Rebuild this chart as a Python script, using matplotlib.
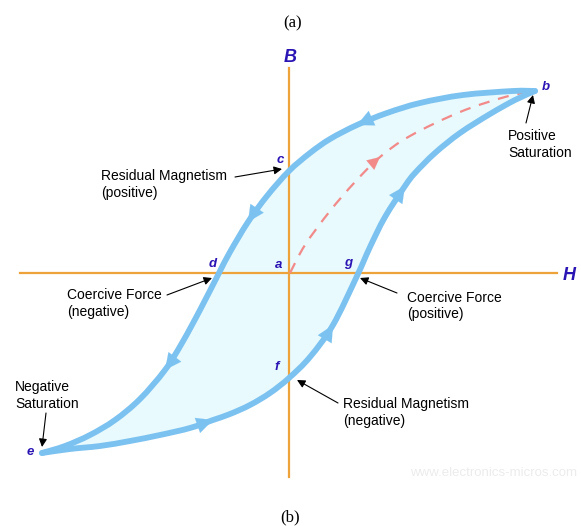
import numpy as np
import matplotlib
matplotlib.use("Agg")
from matplotlib import pyplot as plt
from matplotlib.path import Path
from matplotlib.patches import PathPatch

# hysteresis loop, values (H, B in arbitrary units)
# descending branch b -> c -> d -> e
down_h = [24.6, 22.4, 17.4, 13.1, 9.8, 6.8, 4.1, 2.1, 0.0, -2.2, -4.1, -5.9, -7.0, -8.9,
          -10.7, -12.4, -14.9, -17.4, -19.9, -22.4, -24.7]
down_b = [18.2, 18.2, 17.8, 17.0, 16.0, 14.8, 13.4, 12.0, 10.2, 7.7, 5.1, 2.1, 0.0, -3.7,
          -7.0, -9.7, -12.6, -14.7, -16.2, -17.3, -18.0]
# ascending branch e -> f -> g -> b
up_h = [-24.7, -21.9, -18.9, -15.9, -12.9, -9.9, -7.6, -5.9, -3.9, -1.9, 0.0, 2.1, 4.4, 6.8,
        8.1, 9.6, 11.6, 12.6, 14.6, 17.1, 20.1, 22.6, 24.6]
up_b = [-18.0, -17.6, -17.3, -16.8, -16.2, -15.5, -14.7, -14.1, -13.2, -12.0, -10.5, -8.4,
        -5.2, -0.3, 2.6, 5.6, 8.7, 10.0, 12.0, 14.0, 15.9, 17.3, 18.2]
# initial magnetisation curve a -> b
init_h = [0.1, 1.6, 4.1, 6.6, 9.1, 12.1, 17.1, 21.6, 24.6]
init_b = [0.0, 2.8, 6.2, 9.1, 11.6, 13.7, 16.1, 17.6, 18.2]

# where the direction arrows sit (indices into the arrays above)
down_arrows = [5, 10, 15]
up_arrows = [6, 12, 16]
init_arrows = [4]

# point labels
pt_names = ["a", "b", "c", "d", "e", "f", "g"]
pt_h = [-1.0, 25.7, -0.9, -7.6, -25.9, -1.2, 5.9]
pt_b = [0.8, 18.6, 11.3, 0.9, -17.9, -9.4, 1.0]

# callouts: text, text position, arrow tail, arrow tip
notes = [
    ("Residual Magnetism\n(positive)", (-18.8, 8.85), (-5.4, 9.6), (-0.7, 10.4)),
    ("Positive\nSaturation", (21.9, 12.85), (23.7, 15.0), (24.4, 17.8)),
    ("Coercive Force\n(negative)", (-22.2, -3.05), (-12.2, -2.2), (-7.7, -0.5)),
    ("Coercive Force\n(positive)", (11.8, -3.3), (10.8, -2.0), (7.1, -0.5)),
    ("Residual Magnetism\n(negative)", (5.4, -13.95), (4.9, -13.0), (0.8, -10.7)),
    ("Negative\nSaturation", (-27.4, -12.25), (-24.3, -14.0), (-24.7, -17.4)),
]

BLUE = "#7cc2f0"
FILL = "#e8fafd"
ORANGE = "#eea23a"
LABEL = "#2a14b4"
RED = "#f28a8a"


def smooth_verts(xs, ys):
    # catmull-rom through the read points, as cubic bezier vertices
    p = np.column_stack([xs, ys]).astype(float)
    ext = np.vstack([p[0], p, p[-1]])
    verts = [p[0]]
    for i in range(len(p) - 1):
        p0, p1, p2, p3 = ext[i], ext[i + 1], ext[i + 2], ext[i + 3]
        verts += [p1 + (p2 - p0) / 6, p2 - (p3 - p1) / 6, p2]
    return verts


def smooth_path(xs, ys):
    verts = smooth_verts(xs, ys)
    codes = [Path.MOVETO] + [Path.CURVE4] * (len(verts) - 1)
    return Path(verts, codes)


def direction_arrow(ax, xs, ys, i, color, scale):
    j0, j1 = max(i - 1, 0), min(i + 1, len(xs) - 1)
    d = np.array([xs[j1] - xs[j0], ys[j1] - ys[j0]])
    d = d / np.hypot(*d)
    tip = np.array([xs[i], ys[i]])
    ax.annotate("", xy=tip, xytext=tip - 1.2 * d,
                arrowprops=dict(arrowstyle="-|>,head_length=0.45,head_width=0.22",
                                color=color, lw=0.1, mutation_scale=scale,
                                shrinkA=0, shrinkB=0), zorder=5)


fig = plt.figure(figsize=(5.81, 5.26), dpi=100)
ax = fig.add_axes([0, 0, 1, 1])
ax.set_xlim(-28.9, 29.2)
ax.set_ylim(-25.3, 27.3)
ax.axis("off")

# filled loop
loop = smooth_verts(down_h, down_b) + smooth_verts(up_h, up_b)[1:]
loop_codes = [Path.MOVETO] + [Path.CURVE4] * (len(loop) - 1)
ax.add_patch(PathPatch(Path(loop, loop_codes), facecolor=FILL, edgecolor="none", zorder=1))

# axes
ax.plot([-26.9, 26.8], [0, 0], color=ORANGE, lw=1.6, zorder=2)
ax.plot([0, 0], [-20.4, 20.5], color=ORANGE, lw=1.6, zorder=2)

# magnetisation curve
ax.add_patch(PathPatch(smooth_path(init_h, init_b), facecolor="none", edgecolor=RED,
                       lw=1.6, linestyle=(0, (5, 4)), zorder=3))
for i in init_arrows:
    direction_arrow(ax, init_h, init_b, i, RED, 20)

# loop branches
for hh, bb, arr in [(down_h, down_b, down_arrows), (up_h, up_b, up_arrows)]:
    ax.add_patch(PathPatch(smooth_path(hh, bb), facecolor="none", edgecolor=BLUE, lw=4.2,
                           capstyle="round", joinstyle="round", zorder=4))
    for i in arr:
        direction_arrow(ax, hh, bb, i, BLUE, 26)

# labels
ax.text(0.1, 21.6, "B", color=LABEL, fontsize=13, fontweight="bold", style="italic",
        family="Liberation Sans", ha="center", va="center")
ax.text(28.0, -0.2, "H", color=LABEL, fontsize=13, fontweight="bold", style="italic",
        family="Liberation Sans", ha="center", va="center")
for name, hx, by in zip(pt_names, pt_h, pt_b):
    ax.text(hx, by, name, color=LABEL, fontsize=9.5, fontweight="bold", style="italic",
            family="Liberation Sans", ha="center", va="center", zorder=6)

for txt, tpos, tail, tip in notes:
    ax.text(tpos[0], tpos[1], txt, fontsize=10, family="Liberation Sans", ha="left",
            va="center", linespacing=1.2, zorder=6)
    ax.annotate("", xy=tip, xytext=tail,
                arrowprops=dict(arrowstyle="-|>", color="black", lw=0.8, mutation_scale=12,
                                shrinkA=0, shrinkB=0), zorder=6)

ax.text(20.5, -20.0, "www.electronics-micros.com", fontsize=9.5, color="#ececec",
        family="Liberation Sans", ha="center", va="center")

fig.text(0.504, 1 - 23 / 526, "(a)", fontsize=12, family="Liberation Serif", ha="center", va="center")
fig.text(0.499, 1 - 517 / 526, "(b)", fontsize=12, family="Liberation Serif", ha="center", va="center")

fig.savefig("out.png", dpi=100)
